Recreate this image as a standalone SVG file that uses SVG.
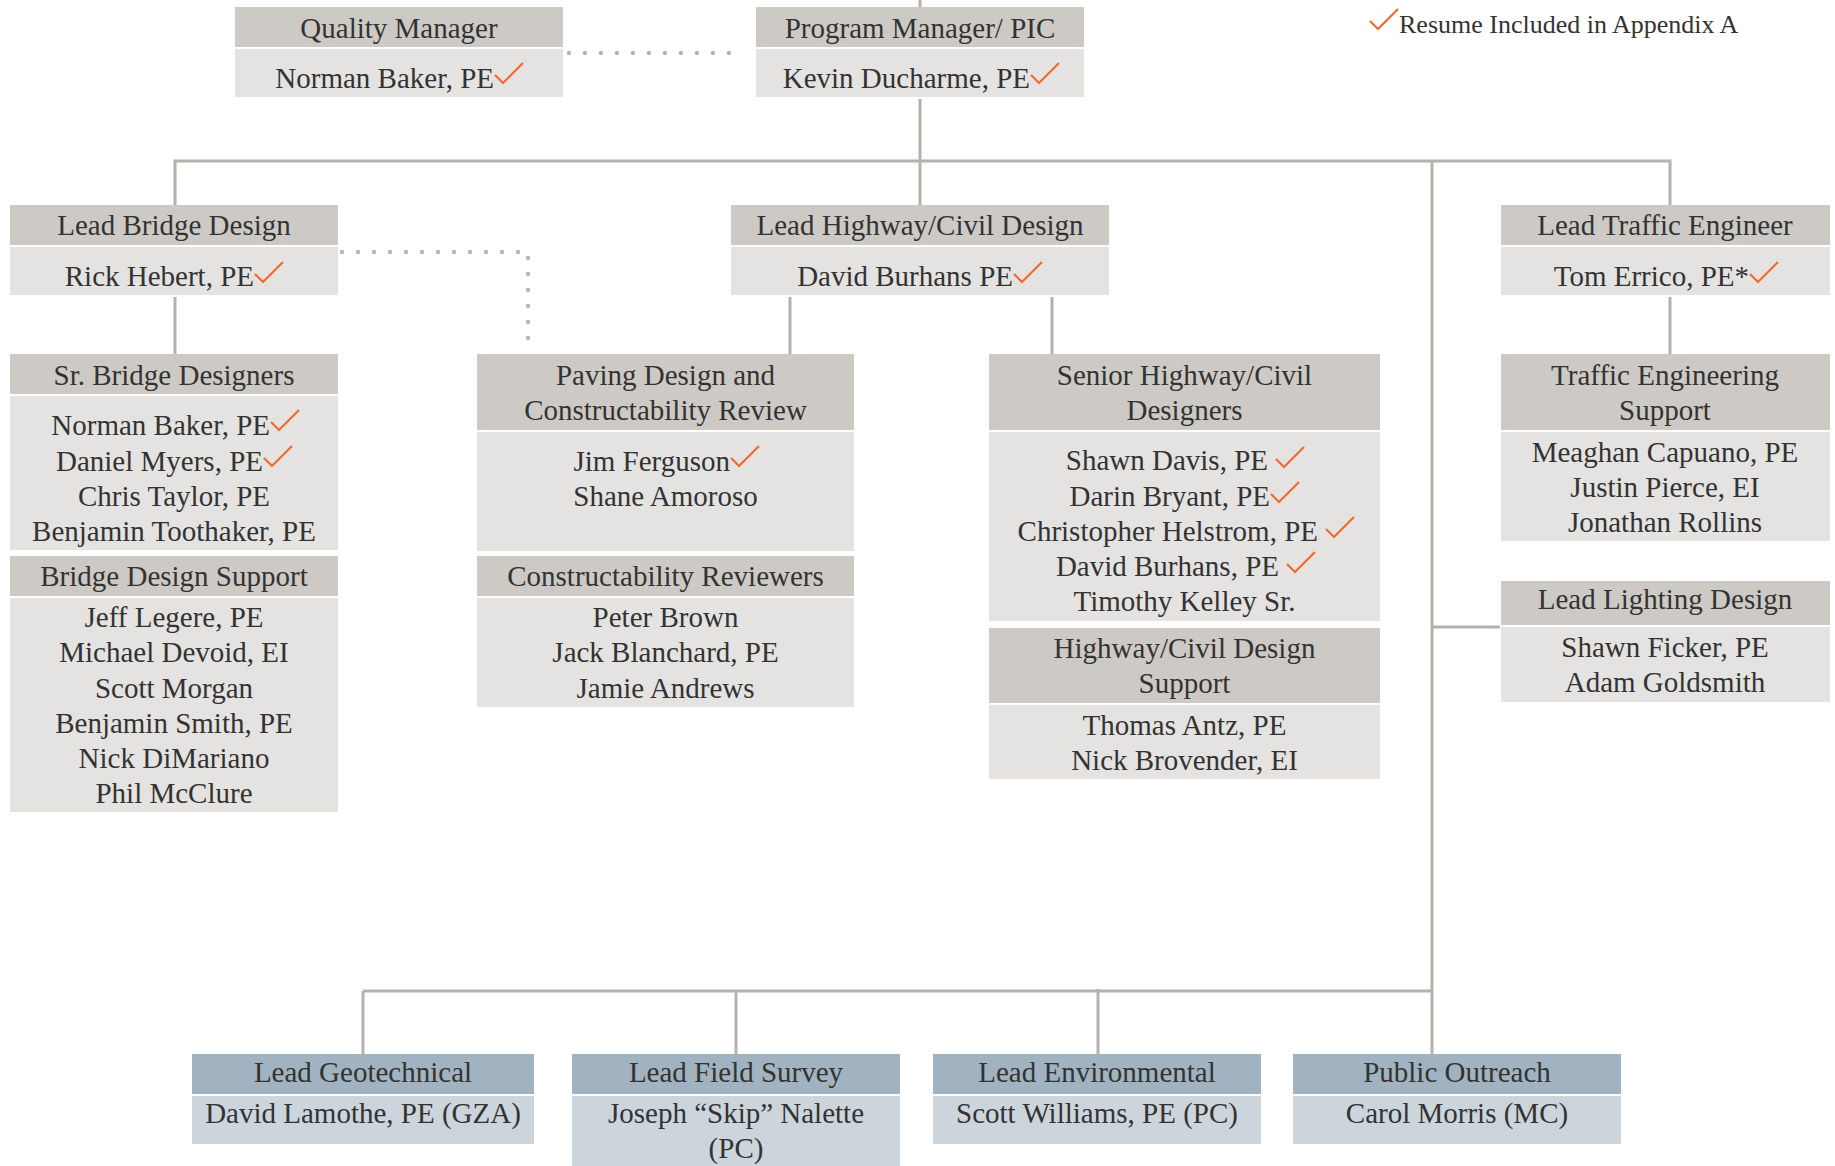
<svg xmlns="http://www.w3.org/2000/svg" xmlns:xlink="http://www.w3.org/1999/xlink" width="1835" height="1166" viewBox="0 0 1835 1166">
<style>
.hd{fill:#cdcac5}
.bd{fill:#e4e3e1}
.bh{fill:#a1b3c0}
.bb{fill:#ccd5dc}
text{font-family:"Liberation Serif","Times New Roman",serif;font-size:29px;fill:#333333;text-anchor:middle}
.e{text-anchor:end}
.leg{font-size:26px;text-anchor:start}
.ln{stroke:#b5b2ac;stroke-width:3;fill:none}
.dot{stroke:#bab7b2;stroke-width:4.5;stroke-linecap:round;stroke-dasharray:0 16;fill:none}
</style>
<defs>
<path id="chk" d="M0,12 L8,20 L28,0" fill="none" stroke="#f26a30" stroke-width="2.2"/>
</defs>
<rect width="1835" height="1166" fill="#ffffff"/>
<g id="connectors">
<line class="ln" x1="920" y1="0" x2="920" y2="7"/>
<line class="ln" x1="920" y1="99" x2="920" y2="205"/>
<polyline class="ln" points="175,205 175,161 1670,161 1670,205"/>
<line class="ln" x1="1432" y1="161" x2="1432" y2="1054"/>
<line class="ln" x1="175" y1="297" x2="175" y2="354"/>
<line class="ln" x1="790" y1="297" x2="790" y2="354"/>
<line class="ln" x1="1052" y1="297" x2="1052" y2="354"/>
<line class="ln" x1="1670" y1="297" x2="1670" y2="354"/>
<line class="ln" x1="1432" y1="627" x2="1500" y2="627"/>
<line class="ln" x1="363" y1="991" x2="1433" y2="991"/>
<line class="ln" x1="363" y1="991" x2="363" y2="1054"/>
<line class="ln" x1="736" y1="991" x2="736" y2="1054"/>
<line class="ln" x1="1098" y1="989" x2="1098" y2="1054"/>
<line class="dot" x1="569" y1="53" x2="745" y2="53"/>
<polyline class="dot" points="342,252 528,252 528,350"/>
</g>
<g id="legend">
<use href="#chk" x="1370" y="9"/>
<text class="leg" x="1399" y="33">Resume Included in Appendix A</text>
</g>
<g id="quality-manager">
<rect class="hd" x="235" y="7" width="328" height="40"/>
<rect class="bd" x="235" y="49" width="328" height="48"/>
<text x="399" y="38">Quality Manager</text>
<text class="e" x="494" y="88">Norman Baker, PE</text>
<use href="#chk" x="495" y="63"/>
</g>
<g id="program-manager">
<rect class="hd" x="756" y="7" width="328" height="40"/>
<rect class="bd" x="756" y="49" width="328" height="48"/>
<text x="920" y="38">Program Manager/ PIC</text>
<text class="e" x="1030" y="88">Kevin Ducharme, PE</text>
<use href="#chk" x="1031" y="63"/>
</g>
<g id="lead-bridge">
<rect class="hd" x="10" y="205" width="328" height="40"/>
<rect class="bd" x="10" y="247" width="328" height="48"/>
<text x="174" y="235">Lead Bridge Design</text>
<text class="e" x="254" y="286">Rick Hebert, PE</text>
<use href="#chk" x="255" y="262"/>
</g>
<g id="lead-highway">
<rect class="hd" x="731" y="205" width="378" height="40"/>
<rect class="bd" x="731" y="247" width="378" height="48"/>
<text x="920" y="235">Lead Highway/Civil Design</text>
<text class="e" x="1013" y="286">David Burhans PE</text>
<use href="#chk" x="1014" y="262"/>
</g>
<g id="lead-traffic">
<rect class="hd" x="1501" y="205" width="329" height="40"/>
<rect class="bd" x="1501" y="247" width="329" height="48"/>
<text x="1665" y="235">Lead Traffic Engineer</text>
<text class="e" x="1749" y="286">Tom Errico, PE*</text>
<use href="#chk" x="1750" y="262"/>
</g>
<g id="sr-bridge">
<rect class="hd" x="10" y="354" width="328" height="40"/>
<rect class="bd" x="10" y="396" width="328" height="154"/>
<text x="174" y="385">Sr. Bridge Designers</text>
<text class="e" x="270" y="435">Norman Baker, PE</text>
<use href="#chk" x="271" y="410"/>
<text class="e" x="263" y="471">Daniel Myers, PE</text>
<use href="#chk" x="264" y="446"/>
<text x="174" y="506">Chris Taylor, PE</text>
<text x="174" y="541">Benjamin Toothaker, PE</text>
</g>
<g id="bridge-support">
<rect class="hd" x="10" y="556" width="328" height="40"/>
<rect class="bd" x="10" y="598" width="328" height="214"/>
<text x="174" y="586">Bridge Design Support</text>
<text x="174" y="627">Jeff Legere, PE</text>
<text x="174" y="662">Michael Devoid, EI</text>
<text x="174" y="698">Scott Morgan</text>
<text x="174" y="733">Benjamin Smith, PE</text>
<text x="174" y="768">Nick DiMariano</text>
<text x="174" y="803">Phil McClure</text>
</g>
<g id="paving">
<rect class="hd" x="477" y="354" width="377" height="76"/>
<rect class="bd" x="477" y="432" width="377" height="119"/>
<text x="665.5" y="385">Paving Design and</text>
<text x="665.5" y="420">Constructability Review</text>
<text class="e" x="730" y="471">Jim Ferguson</text>
<use href="#chk" x="731" y="446"/>
<text x="665.5" y="506">Shane Amoroso</text>
</g>
<g id="constructability">
<rect class="hd" x="477" y="556" width="377" height="40"/>
<rect class="bd" x="477" y="598" width="377" height="109"/>
<text x="665.5" y="586">Constructability Reviewers</text>
<text x="665.5" y="627">Peter Brown</text>
<text x="665.5" y="662">Jack Blanchard, PE</text>
<text x="665.5" y="698">Jamie Andrews</text>
</g>
<g id="senior-highway">
<rect class="hd" x="989" y="354" width="391" height="76"/>
<rect class="bd" x="989" y="432" width="391" height="189"/>
<text x="1184.5" y="385">Senior Highway/Civil</text>
<text x="1184.5" y="420">Designers</text>
<text class="e" x="1268" y="470">Shawn Davis, PE</text>
<use href="#chk" x="1276" y="447"/>
<text class="e" x="1270" y="506">Darin Bryant, PE</text>
<use href="#chk" x="1271" y="482"/>
<text class="e" x="1318" y="541">Christopher Helstrom, PE</text>
<use href="#chk" x="1326" y="517"/>
<text class="e" x="1279" y="576">David Burhans, PE</text>
<use href="#chk" x="1287" y="552"/>
<text x="1184.5" y="611">Timothy Kelley Sr.</text>
</g>
<g id="highway-support">
<rect class="hd" x="989" y="628" width="391" height="75"/>
<rect class="bd" x="989" y="705" width="391" height="74"/>
<text x="1184.5" y="658">Highway/Civil Design</text>
<text x="1184.5" y="693">Support</text>
<text x="1184.5" y="735">Thomas Antz, PE</text>
<text x="1184.5" y="770">Nick Brovender, EI</text>
</g>
<g id="traffic-support">
<rect class="hd" x="1501" y="354" width="329" height="76"/>
<rect class="bd" x="1501" y="432" width="329" height="109"/>
<text x="1665" y="385">Traffic Engineering</text>
<text x="1665" y="420">Support</text>
<text x="1665" y="462">Meaghan Capuano, PE</text>
<text x="1665" y="497">Justin Pierce, EI</text>
<text x="1665" y="532">Jonathan Rollins</text>
</g>
<g id="lead-lighting">
<rect class="hd" x="1501" y="581" width="329" height="44"/>
<rect class="bd" x="1501" y="627" width="329" height="75"/>
<text x="1665" y="609">Lead Lighting Design</text>
<text x="1665" y="657">Shawn Ficker, PE</text>
<text x="1665" y="692">Adam Goldsmith</text>
</g>
<g id="lead-geotechnical">
<rect class="bh" x="192" y="1054" width="342" height="40"/>
<rect class="bb" x="192" y="1096" width="342" height="48"/>
<text x="363" y="1082">Lead Geotechnical</text>
<text x="363" y="1123">David Lamothe, PE (GZA)</text>
</g>
<g id="lead-field-survey">
<rect class="bh" x="572" y="1054" width="328" height="40"/>
<rect class="bb" x="572" y="1096" width="328" height="72"/>
<text x="736" y="1082">Lead Field Survey</text>
<text x="736" y="1123">Joseph “Skip” Nalette</text>
<text x="736" y="1158">(PC)</text>
</g>
<g id="lead-environmental">
<rect class="bh" x="933" y="1054" width="328" height="40"/>
<rect class="bb" x="933" y="1096" width="328" height="48"/>
<text x="1097" y="1082">Lead Environmental</text>
<text x="1097" y="1123">Scott Williams, PE (PC)</text>
</g>
<g id="public-outreach">
<rect class="bh" x="1293" y="1054" width="328" height="40"/>
<rect class="bb" x="1293" y="1096" width="328" height="48"/>
<text x="1457" y="1082">Public Outreach</text>
<text x="1457" y="1123">Carol Morris (MC)</text>
</g>
</svg>
